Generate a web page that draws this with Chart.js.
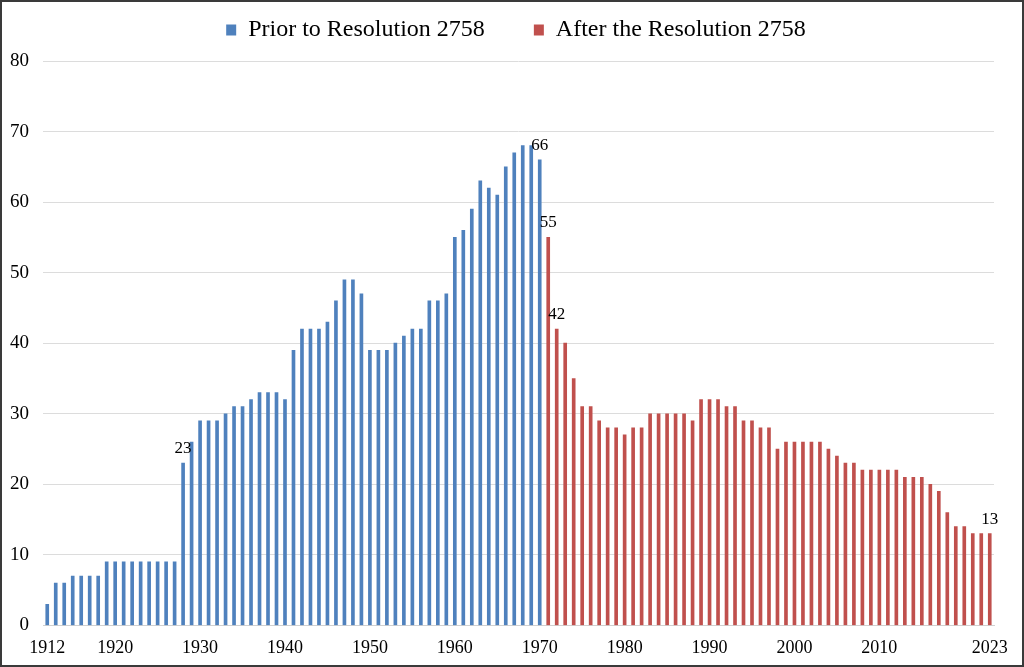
<!DOCTYPE html>
<html><head><meta charset="utf-8">
<script src="https://cdn.jsdelivr.net/npm/chart.js@4/dist/chart.umd.min.js"></script>
<style>html,body{margin:0;padding:0;background:#fff;overflow:hidden}canvas{display:block}</style>
</head><body>
<canvas id="c" width="1024" height="667"></canvas>
<script>
// Categories: one bar per year, 1912–2023
const firstYear = 1912, lastYear = 2023;
const years = [];
for (let y = firstYear; y <= lastYear; y++) years.push(String(y));

// Series values
const priorValues = [
  3, 6, 6, 7, 7, 7, 7, 9, 9, 9,           // 1912-1921
  9, 9, 9, 9, 9, 9, 23, 26, 29, 29,       // 1922-1931
  29, 30, 31, 31, 32, 33, 33, 33, 32, 39, // 1932-1941
  42, 42, 42, 43, 46, 49, 49, 47, 39, 39, // 1942-1951
  39, 40, 41, 42, 42, 46, 46, 47, 55, 56, // 1952-1961
  59, 63, 62, 61, 65, 67, 68, 68, 66      // 1962-1970
];
const afterValues = [
  55, 42, 40, 35, 31, 31, 29, 28, 28,     // 1971-1979
  27, 28, 28, 30, 30, 30, 30, 30, 29, 32, // 1980-1989
  32, 32, 31, 31, 29, 29, 28, 28, 25, 26, // 1990-1999
  26, 26, 26, 26, 25, 24, 23, 23, 22, 22, // 2000-2009
  22, 22, 22, 21, 21, 21, 20, 19, 16, 14, // 2010-2019
  14, 13, 13, 13                          // 2020-2023
];
const seriesNames = ['Prior to Resolution 2758', 'After the Resolution 2758'];
const tickLabels = ['1912', '1920', '1930', '1940', '1950', '1960', '1970', '1980', '1990', '2000', '2010', '2023'];
const labeledYears = ['1928', '1970', '1971', '1972', '2023'];

const priorData = years.map((y, i) => i < priorValues.length ? priorValues[i] : null);
const afterData = years.map((y, i) => i >= priorValues.length ? afterValues[i - priorValues.length] : null);

const FONT = "'Liberation Serif', 'Times New Roman', serif";
const LEGEND_H = 92;
const LEGEND_SHIFT = 16;

const legendFitPlugin = {
  id: 'legendFit',
  beforeLayout(chart) {
    const lg = chart.legend;
    if (lg && !lg._fitPatched) {
      const orig = lg.fit;
      lg.fit = function () { orig.call(this); this.height = LEGEND_H; };
      lg._fitPatched = true;
    }
  },
  afterLayout(chart) {
    const lg = chart.legend;
    if (lg) {
      lg.left += LEGEND_SHIFT;
      lg.right += LEGEND_SHIFT;
      if (typeof lg.adjustHitBoxes === 'function') lg.adjustHitBoxes();
    }
  }
};
const labelPlugin = {
  id: 'valueLabels',
  afterDatasetsDraw(chart) {
    const ctx = chart.ctx;
    ctx.save();
    ctx.font = '17px ' + FONT;
    ctx.fillStyle = '#000';
    ctx.textAlign = 'center';
    ctx.textBaseline = 'bottom';
    chart.data.datasets.forEach((ds, di) => {
      const meta = chart.getDatasetMeta(di);
      meta.data.forEach((el, i) => {
        const v = ds.data[i];
        if (v == null || !labeledYears.includes(years[i])) return;
        ctx.fillText(String(v), el.x, el.y - 6);
      });
    });
    ctx.restore();
  }
};
const borderPlugin = {
  id: 'frame',
  afterDraw(chart) {
    const ctx = chart.ctx;
    ctx.save();
    ctx.strokeStyle = '#3a3a3a';
    ctx.lineWidth = 2;
    ctx.strokeRect(1, 1, chart.width - 2, chart.height - 2);
    ctx.restore();
  }
};

new Chart(document.getElementById('c'), {
  type: 'bar',
  data: {
    labels: years,
    datasets: [
      { label: seriesNames[0], data: priorData, backgroundColor: '#4F81BD', barThickness: 3, grouped: false },
      { label: seriesNames[1], data: afterData, backgroundColor: '#C0504D', barThickness: 3, grouped: false }
    ]
  },
  options: {
    responsive: false,
    animation: false,
    layout: { padding: { top: -31, left: 6, right: 30, bottom: -4 } },
    plugins: {
      legend: {
        position: 'top',
        labels: {
          color: '#000',
          boxWidth: 10, boxHeight: 11,
          padding: 49,
          font: { family: FONT, size: 24 }
        }
      },
      tooltip: { enabled: false }
    },
    scales: {
      x: {
        grid: { display: false, drawTicks: false },
        border: { display: true, color: '#d0d0d0' },
        ticks: {
          autoSkip: false, maxRotation: 0, minRotation: 0,
          padding: 12, color: '#000',
          font: { family: FONT, size: 18 },
          callback(value, index) { return tickLabels.includes(years[index]) ? years[index] : ''; }
        }
      },
      y: {
        min: 0, max: 80,
        grid: { color: '#dcdcdc', drawTicks: false },
        border: { display: false },
        ticks: { stepSize: 10, padding: 14, color: '#000', font: { family: FONT, size: 19 } },
        afterFit(scale) { scale.width = 37; }
      }
    }
  },
  plugins: [legendFitPlugin, labelPlugin, borderPlugin]
});
</script>
</body></html>
